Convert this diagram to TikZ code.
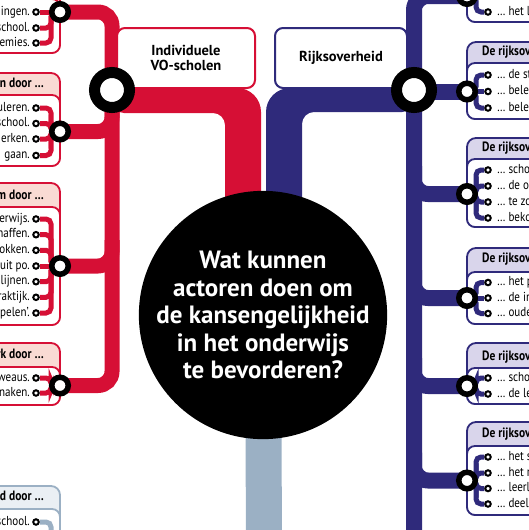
\documentclass[tikz,border=0pt]{standalone}
\usepackage{fontspec}
\setmainfont{PT Sans}
\newfontfamily\narrowfont{PT Sans}[FakeStretch=0.85]
\usetikzlibrary{backgrounds}

\definecolor{vored}{HTML}{D60F35}
\definecolor{voblue}{HTML}{2F2A7B}
\definecolor{vogrey}{HTML}{9BB0C4}
\definecolor{vopink}{HTML}{F9DAD3}
\definecolor{volilac}{HTML}{D9D5EB}
\definecolor{vomist}{HTML}{EAEFF4}

\tikzset{
  question/.style={circle, fill=black, text=white, minimum size=220pt, inner sep=0pt, align=center, font=\bfseries\fontsize{25}{27.5}\selectfont},
  actorbox/.style={rectangle, rounded corners=8pt, fill=white, line width=2pt, minimum width=138pt, minimum height=60pt, align=center, font=\bfseries\fontsize{14.5}{15.5}\selectfont},
  bigring/.style={circle, draw=black, fill=white, line width=11pt, minimum size=35pt, inner sep=0pt},
  midring/.style={circle, draw=black, fill=white, line width=5.5pt, minimum size=16.5pt, inner sep=0pt},
  dotring/.style={circle, draw=black, fill=white, line width=2pt, minimum size=5.5pt, inner sep=0pt},
  itemleft/.style={anchor=east, inner sep=0pt, text height=9pt, text depth=2.5pt, font=\narrowfont\fontsize{13}{14}\selectfont},
  itemright/.style={itemleft, anchor=west},
  headleft/.style={itemleft, font=\narrowfont\bfseries\fontsize{13.5}{14}\selectfont},
  headright/.style={headleft, anchor=west},
  redline/.style={draw=vored, line width=15pt, rounded corners=14pt},
  blueline/.style={draw=voblue, line width=16pt, rounded corners=14pt},
  greytrunk/.style={draw=vogrey, line width=36pt},
  redtwig/.style={draw=vored, line width=5pt, rounded corners=5pt},
  bluetwig/.style={draw=voblue, line width=5pt, rounded corners=5pt},
  greytwig/.style={draw=vogrey, line width=5pt, rounded corners=5pt},
  redcard/.style={draw=vored, line width=1.8pt, fill=vopink, rounded corners=9pt},
  redinner/.style={draw=vored, line width=1.8pt, fill=white, rounded corners=8pt},
  bluecard/.style={draw=voblue, line width=1.8pt, fill=volilac, rounded corners=9pt},
  blueinner/.style={draw=voblue, line width=1.8pt, fill=white, rounded corners=8pt},
  greycard/.style={draw=vogrey, line width=1.8pt, fill=vomist, rounded corners=9pt},
  greyinner/.style={draw=vogrey, line width=1.8pt, fill=white, rounded corners=8pt}
}

\begin{document}
\begin{tikzpicture}[x=1pt, y=-1pt]
  \useasboundingbox (0,0) rectangle (529,530);

  % central question
  \node[question] (vraag) at (263,315) {Wat kunnen\\actoren doen om\\de kansengelijkheid\\in het onderwijs\\te bevorderen?};
  \coordinate (vraagend) at (264,545);

  % the two actors
  \node[actorbox, draw=vored] (scholen) at (186,58) {Individuele\\VO-scholen};
  \node[actorbox, draw=voblue, minimum width=132pt] (rijk) at (341,58) {Rijksoverheid};

  % junctions
  \node[bigring] (hubL) at (112,90) {};
  \node[bigring] (hubR) at (414,90) {};
  \node[midring] (mA) at (60,12) {};
  \node[midring] (mB) at (60,131.5) {};
  \node[midring] (mC) at (60,266) {};
  \node[midring] (mD) at (60,385.5) {};
  \node[midring] (m0) at (467,-4) {};
  \node[midring] (m1) at (467,91.5) {};
  \node[midring] (m2) at (467,194) {};
  \node[midring] (m3) at (467,298) {};
  \node[midring] (m4) at (467,386) {};
  \node[midring] (m5) at (467,480.5) {};

  % card headers
  \node[headleft] (hB) at (44,84) {en door …};
  \node[headleft] (hC) at (44,196) {m door …};
  \node[headleft] (hD) at (44,355) {rk door …};
  \node[headleft] (hE) at (44,497) {id door …};
  \foreach \y [count=\i] in {52,148,259,357,434}
    \node[headright] (h\i) at (482,\y) {De rijksoverheid};

  % items, left
  \foreach \y/\t [count=\i] in {12/ingen., 28/school., 43/emies.} {
    \node[dotring] (a\i) at (36,\y) {};
    \node[itemleft] (ta\i) at (30,\y) {\t};
  }
  \foreach \y/\t [count=\i] in {108/uleren., 123.5/school., 139/erken., 155.5/gaan.} {
    \node[dotring] (b\i) at (36,\y) {};
    \node[itemleft] (tb\i) at (30,\y) {\t};
  }
  \foreach \y/\t [count=\i] in {219/erwijs., 234.7/haffen., 250.3/okken., 266/uit po., 281.7/lijnen., 297.3/raktijk., 313/pelen’.} {
    \node[dotring] (c\i) at (36,\y) {};
    \node[itemleft] (tc\i) at (30,\y) {\t};
  }
  \foreach \y/\t [count=\i] in {378/weaus., 393/naken.} {
    \node[dotring] (d\i) at (36,\y) {};
    \node[itemleft] (td\i) at (30,\y) {\t};
  }
  \node[dotring] (e1) at (36,522) {};
  \node[itemleft] (te1) at (30,522) {school.};
  \coordinate (eend) at (51,545);

  % items, right
  \node[dotring] (p1) at (488,12) {};
  \node[itemright] (tp1) at (497,12) {… het l};
  \foreach \y/\t [count=\i] in {75/… de st, 91.5/… bele, 108/… bele} {
    \node[dotring] (q\i) at (488,\y) {};
    \node[itemright] (tq\i) at (497,\y) {\t};
  }
  \foreach \y/\t [count=\i] in {170/… scho, 186/… de o, 202/… te zo, 218/… beko} {
    \node[dotring] (r\i) at (488,\y) {};
    \node[itemright] (tr\i) at (497,\y) {\t};
  }
  \foreach \y/\t [count=\i] in {282.5/… het p, 298/… de in, 313.5/… oude} {
    \node[dotring] (s\i) at (488,\y) {};
    \node[itemright] (ts\i) at (497,\y) {\t};
  }
  \foreach \y/\t [count=\i] in {378/… scho, 394/… de le} {
    \node[dotring] (t\i) at (488,\y) {};
    \node[itemright] (tt\i) at (497,\y) {\t};
  }
  \foreach \y/\t [count=\i] in {457/… het s, 473/… het r, 488.5/… leerl, 504/… deel} {
    \node[dotring] (u\i) at (488,\y) {};
    \node[itemright] (tu\i) at (497,\y) {\t};
  }

  \begin{scope}[on background layer]
    % cards
    \foreach \t/\i/\b in {-40/-1/53, 73/95/166, 183/207/325, 343/367/405} {
      \draw[redcard] (-30,\t) rectangle (60,\b);
      \draw[redinner] (-30,\i) rectangle (60,\b);
    }
    \draw[greycard] (-30,486) rectangle (60,560);
    \draw[greyinner] (-30,509) rectangle (60,560);
    \foreach \t/\i/\b in {-60/-30/22, 42/63/119, 138/159/227, 248/272/324, 343/368/404, 422/446/515} {
      \draw[bluecard] (467,\t) rectangle (560,\b);
      \draw[blueinner] (467,\i) rectangle (560,\b);
    }

    % main trunks
    \fill[vored] (112,88) [rounded corners=24pt] -- (261,88) -- (261,250) [sharp corners] -- (225,250) [rounded corners=12pt] -- (225,113) -- (112,113) [sharp corners] -- cycle;
    \fill[voblue] (414,88) [rounded corners=24pt] -- (266,88) -- (266,250) [sharp corners] -- (302,250) [rounded corners=12pt] -- (302,112) -- (414,112) [sharp corners] -- cycle;
    \draw[greytrunk] (vraag.center) -- (vraagend);

    % branch lines
    \draw[redline] (mA.center) -- (112,12) -- (112,385.5) -- (mD.center);
    \draw[redline] (112,105) -- (112,131.5) -- (mB.center);
    \draw[redline] (112,240) -- (112,266) -- (mC.center);
    \draw[blueline] (m0.center) -- (414,-4) -- (414,545);
    \draw[blueline] (hubR |- m1) -- (m1.center);
    \foreach \m/\y in {m2/194, m3/298, m4/386, m5/480.5}
      \draw[blueline] (414,\y-28) -- (414,\y) -- (\m.center);

    % twigs to the items
    \draw[redtwig] (mA.center) -- (a1);
    \foreach \i in {2,3} \draw[redtwig] (mA.center) -- (51,12) |- (a\i);
    \foreach \i in {1,...,4} \draw[redtwig] (mB.center) -- (51,131.5) |- (b\i);
    \foreach \i in {1,2,3,5,6,7} \draw[redtwig] (mC.center) -- (51,266) |- (c\i);
    \draw[redtwig] (mC.center) -- (c4);
    \foreach \i in {1,2} \draw[redtwig] (mD.center) -- (51,385.5) |- (d\i);
    \draw[greytwig] (e1) -| (eend);
    \draw[bluetwig] (m0.center) -- (476,-4) |- (p1);
    \foreach \i in {1,3} \draw[bluetwig] (m1.center) -- (476,91.5) |- (q\i);
    \draw[bluetwig] (m1.center) -- (q2);
    \foreach \i in {1,...,4} \draw[bluetwig] (m2.center) -- (476,194) |- (r\i);
    \foreach \i in {1,3} \draw[bluetwig] (m3.center) -- (476,298) |- (s\i);
    \draw[bluetwig] (m3.center) -- (s2);
    \foreach \i in {1,2} \draw[bluetwig] (m4.center) -- (476,386) |- (t\i);
    \foreach \i in {1,...,4} \draw[bluetwig] (m5.center) -- (476,480.5) |- (u\i);
  \end{scope}
\end{tikzpicture}
\end{document}
